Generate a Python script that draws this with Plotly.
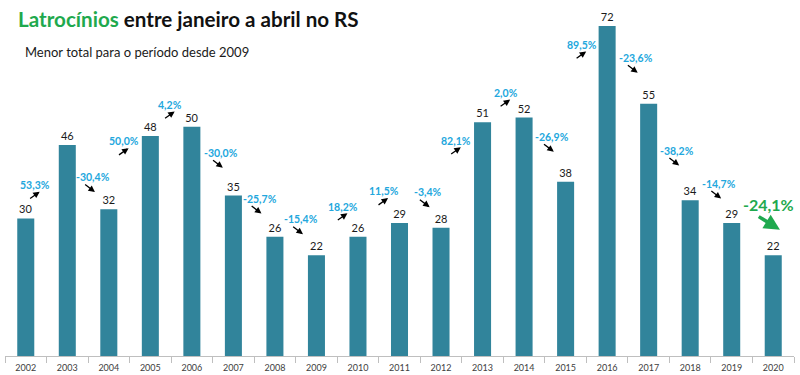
import plotly.graph_objects as go

# ---- data ----
years = list(range(2002, 2021))
values = [30, 46, 32, 48, 50, 35, 26, 22, 26, 29, 28, 51, 52, 38, 72, 55, 34, 29, 22]
pct_labels = ["53,3%", "-30,4%", "50,0%", "4,2%", "-30,0%", "-25,7%", "-15,4%",
              "18,2%", "11,5%", "-3,4%", "82,1%", "2,0%", "-26,9%", "89,5%",
              "-23,6%", "-38,2%", "-14,7%", "-24,1%"]

# ---- layout of the percentage callouts (data coordinates of each label) ----
label_x = [2002.23, 2003.62, 2004.37, 2005.48, 2006.70, 2007.63, 2008.63, 2009.64,
           2010.62, 2011.68, 2012.37, 2013.56, 2014.67, 2015.39, 2016.69, 2017.69,
           2018.70, 2019.88]
label_y = [37.3, 39.0, 46.8, 54.8, 44.3, 34.3, 29.8, 32.6, 35.9, 35.7, 47.0, 57.4,
           47.8, 67.9, 65.0, 44.8, 37.6, 33.0]

BAR = "#31849B"
CYAN = "#22A7DD"
GREEN = "#1FA94E"
FONT = "Lato"

fig = go.Figure()
fig.add_trace(go.Bar(
    x=years, y=values, width=0.41, marker=dict(color=BAR, line=dict(width=0)),
    text=[str(v) for v in values], textposition="outside", cliponaxis=False,
    constraintext="none",
    textfont=dict(family=FONT, size=11, color="#1a1a1a"),
    hoverinfo="skip",
))

annotations = []
n = len(pct_labels)
for i, (lab, lx, ly) in enumerate(zip(pct_labels, label_x, label_y)):
    up = values[i + 1] > values[i]
    last = i == n - 1
    annotations.append(dict(
        x=lx, y=ly, xref="x", yref="y", text=lab, showarrow=False,
        font=dict(family=FONT, size=16 if last else 10.5,
                  color=GREEN if last else CYAN, weight="bold"),
        xanchor="center", yanchor="middle",
    ))
    if last:
        annotations.append(dict(
            x=lx, y=ly, xref="x", yref="y", text="", showarrow=True,
            xshift=11.7, yshift=-25, ax=-22.7, ay=-14, axref="pixel", ayref="pixel",
            arrowhead=2, arrowsize=0.9, arrowwidth=3.5, arrowcolor=GREEN, standoff=0,
        ))
    elif up:
        annotations.append(dict(
            x=lx, y=ly, xref="x", yref="y", text="", showarrow=True,
            xshift=4.4, yshift=-6.7, ax=-11.1, ay=7.8,
            arrowhead=2, arrowsize=1, arrowwidth=1.3, arrowcolor="black", standoff=0,
        ))
    else:
        annotations.append(dict(
            x=lx, y=ly, xref="x", yref="y", text="", showarrow=True,
            xshift=1.9, yshift=-14.8, ax=-11.3, ay=-8.6,
            arrowhead=2, arrowsize=1, arrowwidth=1.3, arrowcolor="black", standoff=0,
        ))

annotations.append(dict(
    x=18 / 800, y=1 - 51.7 / 375, xref="paper", yref="paper",
    text="Menor total para o período desde 2009",
    showarrow=False, xanchor="left", yanchor="middle",
    font=dict(family=FONT, size=13, color="#1a1a1a"),
))

fig.update_layout(
    width=800, height=375,
    margin=dict(l=5, r=6, t=3, b=19),
    paper_bgcolor="white", plot_bgcolor="white",
    showlegend=False,
    title=dict(
        text=f"<span style='color:{GREEN}'>Latrocínios</span> entre janeiro a abril no RS",
        x=18 / 800, xanchor="left", xref="container", y=1 - 20 / 375, yanchor="middle", yref="container",
        font=dict(family=FONT, size=20.6, color="#111111", weight="bold"),
    ),
    xaxis=dict(
        range=[2001.5, 2020.5], tickmode="array", tickvals=years,
        ticktext=[str(y) for y in years], ticks="", ticklabelstandoff=3,
        showline=True, linecolor="#BFBFBF", linewidth=1, showgrid=False, zeroline=False,
        tickfont=dict(family=FONT, size=9, color="#404040"),
        minor=dict(tickmode="array", tickvals=[y - 0.5 for y in years] + [years[-1] + 0.5],
                   ticks="outside", ticklen=6, tickcolor="#BFBFBF", showgrid=False),
    ),
    yaxis=dict(range=[0, 77], visible=False, showgrid=False, zeroline=False),
    annotations=annotations,
)

fig.write_html("out.html", config={"displayModeBar": False},
               post_script="document.body.style.margin='0';")
